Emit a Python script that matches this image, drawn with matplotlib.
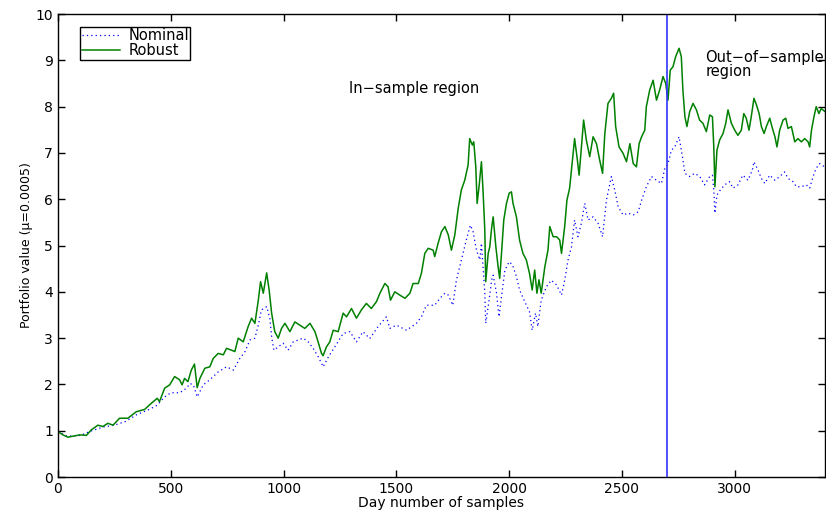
import numpy as np
import matplotlib.pyplot as plt

plt.rcParams['font.family'] = ['DejaVu Sans']

# Robust portfolio
robust_day = [0, 22, 44, 74, 96, 126, 148, 177, 199, 221, 244, 273, 310, 347, 384, 413, 440, 450,
              473, 495, 517, 539, 550, 561, 576, 591, 605, 617, 629, 651, 673, 688, 710, 733, 747,
              769, 784, 799, 821, 843, 858, 873, 888, 898, 910, 925, 936, 947, 961, 976, 991, 1006,
              1028, 1050, 1072, 1094, 1117, 1139, 1153, 1168, 1175, 1190, 1205, 1220, 1242, 1264,
              1279, 1301, 1323, 1345, 1367, 1389, 1412, 1427, 1449, 1463, 1474, 1493, 1515, 1538,
              1560, 1574, 1597, 1611, 1626, 1641, 1663, 1670, 1685, 1700, 1715, 1730, 1744, 1759,
              1774, 1788, 1803, 1818, 1825, 1837, 1843, 1852, 1858, 1867, 1877, 1884, 1892, 1896,
              1907, 1914, 1922, 1929, 1941, 1951, 1958, 1966, 1976, 1988, 2000, 2010, 2017, 2032,
              2046, 2061, 2076, 2090, 2102, 2113, 2123, 2132, 2142, 2158, 2172, 2180, 2195, 2210,
              2224, 2232, 2246, 2256, 2268, 2279, 2290, 2301, 2310, 2320, 2330, 2342, 2357, 2372,
              2387, 2401, 2414, 2424, 2438, 2453, 2463, 2472, 2487, 2505, 2520, 2535, 2550, 2564,
              2576, 2587, 2601, 2608, 2623, 2638, 2653, 2667, 2682, 2694, 2704, 2714, 2726, 2738,
              2753, 2763, 2770, 2779, 2788, 2800, 2815, 2830, 2844, 2859, 2874, 2889, 2901, 2907,
              2912, 2921, 2933, 2948, 2960, 2970, 2985, 3000, 3014, 3029, 3040, 3051, 3063, 3073,
              3085, 3096, 3108, 3118, 3130, 3140, 3155, 3167, 3178, 3187, 3199, 3214, 3226, 3236,
              3251, 3266, 3280, 3295, 3310, 3325, 3332, 3340, 3351, 3361, 3373, 3383, 3398]
robust_val = [0.98, 0.91, 0.86, 0.89, 0.91, 0.90, 1.02, 1.12, 1.09, 1.16, 1.12, 1.27, 1.27, 1.41,
              1.46, 1.59, 1.70, 1.63, 1.92, 1.99, 2.17, 2.10, 1.99, 2.13, 2.06, 2.31, 2.44, 1.93,
              2.13, 2.35, 2.38, 2.56, 2.67, 2.64, 2.78, 2.74, 2.71, 3.00, 2.92, 3.25, 3.43, 3.32,
              3.82, 4.22, 3.97, 4.41, 4.04, 3.54, 3.14, 3.00, 3.21, 3.32, 3.14, 3.35, 3.28, 3.21,
              3.32, 3.14, 2.92, 2.67, 2.62, 2.81, 2.92, 3.17, 3.14, 3.54, 3.46, 3.64, 3.43, 3.61,
              3.75, 3.64, 3.79, 3.97, 4.18, 4.11, 3.82, 4.00, 3.93, 3.86, 3.97, 4.18, 4.18, 4.40,
              4.83, 4.94, 4.90, 4.76, 5.05, 5.30, 5.41, 5.23, 4.90, 5.23, 5.80, 6.20, 6.41, 6.74,
              7.31, 7.17, 7.24, 6.70, 5.91, 6.30, 6.81, 6.20, 5.33, 4.22, 4.83, 4.97, 5.37, 5.62,
              4.97, 4.54, 4.29, 4.83, 5.55, 5.91, 6.13, 6.16, 5.91, 5.62, 5.12, 4.83, 4.69, 4.40,
              4.04, 4.47, 3.97, 4.26, 3.97, 4.54, 4.90, 5.41, 5.19, 5.19, 5.12, 4.83, 5.41, 5.98,
              6.24, 6.77, 7.31, 6.90, 6.52, 7.13, 7.71, 7.28, 6.92, 7.35, 7.20, 6.85, 6.56, 7.42,
              8.07, 8.18, 8.29, 7.57, 7.13, 6.99, 6.81, 7.20, 6.77, 6.70, 7.20, 7.35, 7.49, 8.00,
              8.36, 8.57, 8.14, 8.36, 8.65, 8.50, 8.14, 8.79, 8.86, 9.08, 9.26, 9.08, 8.36, 7.78,
              7.57, 7.89, 8.07, 7.93, 7.71, 7.64, 7.46, 7.82, 7.78, 7.13, 6.27, 7.06, 7.28, 7.42,
              7.64, 7.93, 7.64, 7.49, 7.38, 7.49, 7.85, 7.75, 7.49, 7.78, 8.18, 8.04, 7.85, 7.57,
              7.42, 7.57, 7.75, 7.53, 7.35, 7.13, 7.49, 7.71, 7.75, 7.53, 7.57, 7.24, 7.31, 7.24,
              7.31, 7.24, 7.13, 7.49, 7.78, 8.00, 7.85, 7.96, 7.90]

# Nominal portfolio
nominal_day = [0, 40, 100, 150, 200, 250, 300, 350, 400, 440, 470, 500, 540, 570, 585, 600, 617,
               644, 673, 710, 747, 777, 806, 829, 851, 873, 888, 902, 925, 939, 947, 957, 976, 998,
               1020, 1043, 1065, 1087, 1109, 1131, 1153, 1168, 1175, 1197, 1227, 1264, 1294, 1323,
               1352, 1382, 1419, 1456, 1471, 1500, 1545, 1589, 1611, 1633, 1670, 1693, 1715, 1730,
               1750, 1766, 1788, 1810, 1828, 1840, 1855, 1870, 1877, 1892, 1896, 1911, 1922, 1929,
               1944, 1955, 1966, 1981, 2000, 2015, 2032, 2046, 2069, 2090, 2102, 2117, 2127, 2142,
               2165, 2187, 2210, 2232, 2246, 2261, 2276, 2290, 2305, 2320, 2335, 2350, 2372, 2394,
               2414, 2431, 2453, 2468, 2483, 2505, 2527, 2550, 2572, 2587, 2608, 2631, 2653, 2675,
               2690, 2704, 2719, 2734, 2753, 2768, 2779, 2800, 2822, 2845, 2866, 2889, 2901, 2907,
               2912, 2921, 2936, 2955, 2977, 2992, 3014, 3036, 3058, 3078, 3085, 3103, 3118, 3133,
               3155, 3178, 3199, 3221, 3236, 3258, 3273, 3295, 3317, 3332, 3347, 3361, 3376, 3398]
nominal_val = [0.98, 0.88, 0.90, 1.00, 1.08, 1.12, 1.20, 1.35, 1.45, 1.55, 1.72, 1.82, 1.82, 1.92,
               2.02, 1.99, 1.73, 1.99, 2.10, 2.27, 2.38, 2.31, 2.56, 2.71, 2.96, 3.00, 3.28, 3.61,
               3.68, 3.43, 3.03, 2.74, 2.81, 2.89, 2.74, 2.92, 2.96, 3.00, 2.92, 2.78, 2.60, 2.46,
               2.38, 2.58, 2.81, 3.10, 3.14, 2.92, 3.14, 2.99, 3.25, 3.46, 3.21, 3.28, 3.17, 3.32,
               3.46, 3.71, 3.71, 3.86, 3.97, 3.93, 3.71, 4.25, 4.69, 5.12, 5.44, 5.30, 4.90, 4.69,
               5.05, 3.97, 3.32, 3.82, 4.25, 4.36, 3.97, 3.46, 3.90, 4.47, 4.65, 4.58, 4.33, 4.04,
               3.79, 3.57, 3.17, 3.54, 3.25, 3.82, 4.11, 4.25, 4.15, 3.93, 4.25, 4.69, 4.97, 5.55,
               5.19, 5.48, 5.91, 5.55, 5.62, 5.48, 5.19, 5.98, 6.49, 6.20, 5.84, 5.66, 5.70, 5.66,
               5.73, 5.98, 6.27, 6.49, 6.41, 6.34, 6.67, 6.77, 7.06, 7.13, 7.35, 6.92, 6.56, 6.49,
               6.56, 6.49, 6.31, 6.49, 6.52, 6.20, 5.70, 6.09, 6.20, 6.31, 6.38, 6.24, 6.31, 6.52,
               6.41, 6.63, 6.81, 6.63, 6.45, 6.34, 6.52, 6.41, 6.49, 6.59, 6.45, 6.38, 6.27, 6.27,
               6.31, 6.24, 6.49, 6.67, 6.77, 6.70]

split_day = 2700  # end of in-sample region

fig = plt.figure(figsize=(8.26, 5.11), dpi=100)
ax = fig.add_axes([0.0702, 0.0665, 0.9286, 0.906])

ax.plot(nominal_day, nominal_val, linestyle=(0, (1, 2.5)), color='#0000ff', linewidth=0.9,
        label='Nominal')
ax.plot(robust_day, robust_val, '-', color='#008000', linewidth=1.1, label='Robust')
ax.axvline(split_day, color='#3333ff', linewidth=1.2)

ax.text(1290, 8.4, 'In\u2212sample region', fontsize=10.5, va='center', ha='left')
ax.text(2870, 9.07, 'Out\u2212of\u2212sample', fontsize=10.5, va='center', ha='left')
ax.text(2870, 8.76, 'region', fontsize=10.5, va='center', ha='left')

ax.set_xlim(0, 3400)
ax.set_ylim(0, 10)
ax.set_xticks(np.arange(0, 3001, 500))
ax.set_yticks(np.arange(0, 11, 1))
ax.tick_params(direction='in', top=True, right=True, length=5, width=1, labelsize=10)
for sp in ax.spines.values():
    sp.set_linewidth(1.0)

ax.set_xlabel('Day number of samples', fontsize=10, labelpad=0)
ax.set_ylabel('Portfolio value (\u03bc=0.0005)', fontsize=9, labelpad=2)

leg = ax.legend(loc='upper left', bbox_to_anchor=(0.029, 0.972), borderaxespad=0,
                fontsize=10.5, handlelength=2.6, borderpad=0.1, labelspacing=0.0,
                handletextpad=0.6, fancybox=False, framealpha=1, edgecolor='black')
leg.get_frame().set_linewidth(1.0)

plt.savefig('out.png', dpi=100)
